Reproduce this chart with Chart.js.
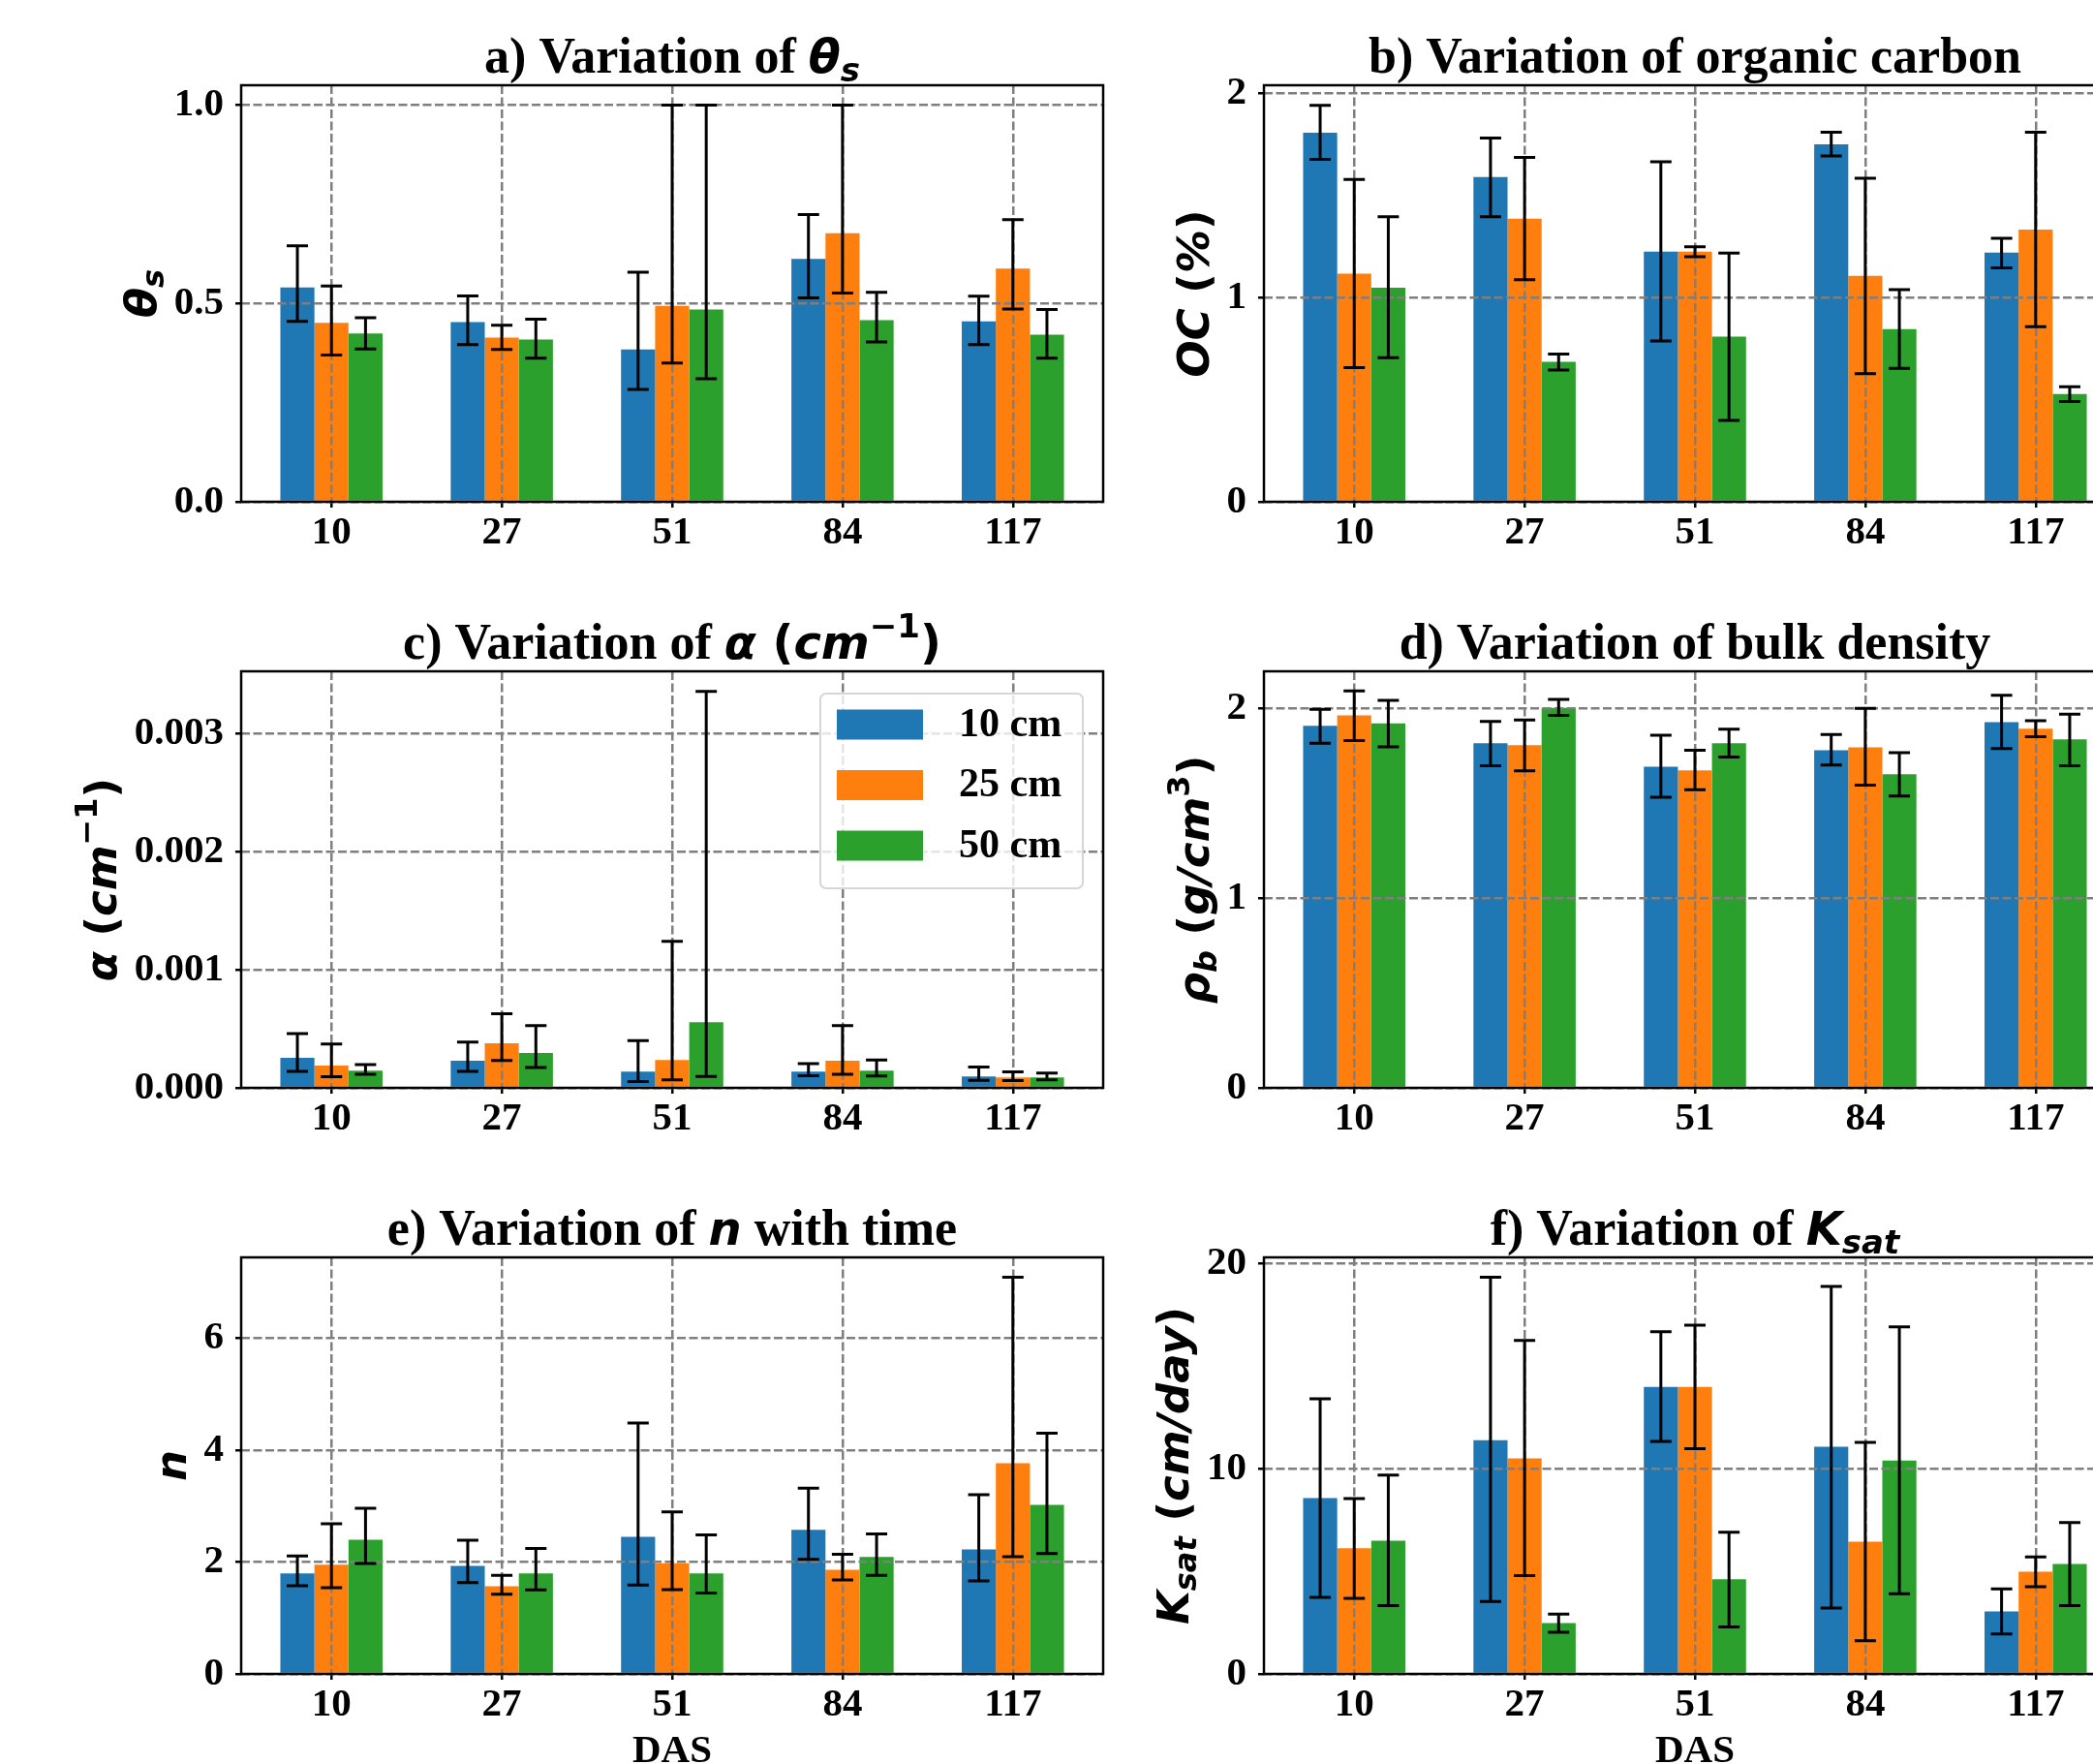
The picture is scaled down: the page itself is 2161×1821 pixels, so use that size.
<!DOCTYPE html>
<html>
<head>
<meta charset="utf-8">
<script src="https://cdn.jsdelivr.net/npm/chart.js@4.4.1/dist/chart.umd.min.js"></script>
<style>
  html, body { margin: 0; padding: 0; background: #fff; width: 2161px; height: 1821px; overflow: hidden; }
  canvas { position: absolute; }
</style>
</head>
<body>
<canvas id="pa" width="1150" height="640" style="left:0px;top:0px"></canvas>
<canvas id="pb" width="1150" height="640" style="left:1056px;top:0px"></canvas>
<canvas id="pc" width="1150" height="640" style="left:0px;top:605px"></canvas>
<canvas id="pd" width="1150" height="640" style="left:1056px;top:605px"></canvas>
<canvas id="pe" width="1150" height="640" style="left:0px;top:1210px"></canvas>
<canvas id="pf" width="1150" height="640" style="left:1056px;top:1210px"></canvas>
<script>
// categories / series
const das = ['10', '27', '51', '84', '117'];
const depths = ['10 cm', '25 cm', '50 cm'];
const colors = ['#1f77b4', '#ff7f0e', '#2ca02c'];

// a) theta_s  (rows: 10 cm, 25 cm, 50 cm)
const thetaMean = [[0.540, 0.453, 0.384, 0.612, 0.455], [0.451, 0.414, 0.494, 0.677, 0.588], [0.424, 0.409, 0.485, 0.458, 0.421]];
const thetaLow  = [[0.455, 0.396, 0.283, 0.514, 0.396], [0.370, 0.384, 0.350, 0.526, 0.486], [0.385, 0.362, 0.310, 0.403, 0.362]];
const thetaHigh = [[0.645, 0.519, 0.579, 0.724, 0.518], [0.544, 0.445, 1.000, 1.000, 0.711], [0.464, 0.460, 1.000, 0.528, 0.485]];
const thetaTicks = [0, 0.5, 1.0];
const thetaTickLabels = ['0.0', '0.5', '1.0'];

// b) organic carbon
const ocMean = [[1.807, 1.590, 1.225, 1.751, 1.220], [1.117, 1.386, 1.225, 1.107, 1.333], [1.049, 0.685, 0.809, 0.846, 0.528]];
const ocLow  = [[1.677, 1.396, 0.787, 1.694, 1.146], [0.657, 1.088, 1.200, 0.628, 0.858], [0.706, 0.645, 0.398, 0.653, 0.491]];
const ocHigh = [[1.942, 1.782, 1.665, 1.810, 1.291], [1.579, 1.687, 1.249, 1.584, 1.810], [1.396, 0.724, 1.218, 1.039, 0.563]];
const ocTicks = [0, 1, 2];
const ocTickLabels = ['0', '1', '2'];

// c) alpha
const alphaMean = [[0.000255, 0.000229, 0.000138, 0.000138, 0.000097], [0.000188, 0.000378, 0.000237, 0.000229, 0.000088], [0.000146, 0.000296, 0.000557, 0.000146, 0.000088]];
const alphaLow  = [[0.000140, 0.000140, 0.000053, 0.000103, 0.000064], [0.000094, 0.000231, 0.000067, 0.000114, 0.000062], [0.000114, 0.000173, 0.000097, 0.000100, 0.000067]];
const alphaHigh = [[0.000460, 0.000387, 0.000401, 0.000205, 0.000176], [0.000372, 0.000627, 0.001242, 0.000527, 0.000135], [0.000196, 0.000527, 0.003360, 0.000237, 0.000126]];
const alphaTicks = [0, 0.001, 0.002, 0.003];
const alphaTickLabels = ['0.000', '0.001', '0.002', '0.003'];

// d) bulk density
const rhoMean = [[1.909, 1.818, 1.694, 1.781, 1.929], [1.965, 1.807, 1.674, 1.796, 1.894], [1.923, 2.004, 1.818, 1.654, 1.838]];
const rhoLow  = [[1.818, 1.699, 1.533, 1.703, 1.790], [1.832, 1.672, 1.572, 1.597, 1.852], [1.798, 1.964, 1.745, 1.539, 1.699]];
const rhoHigh = [[1.996, 1.933, 1.860, 1.863, 2.071], [2.093, 1.940, 1.781, 2.002, 1.937], [2.044, 2.049, 1.892, 1.768, 1.971]];
const rhoTicks = [0, 1, 2];
const rhoTickLabels = ['0', '1', '2'];

// e) n
const nMean = [[1.795, 1.932, 2.452, 2.575, 2.226], [1.952, 1.568, 1.979, 1.863, 3.767], [2.397, 1.795, 1.795, 2.089, 3.021]];
const nLow  = [[1.575, 1.630, 1.589, 2.048, 1.664], [1.541, 1.425, 1.507, 1.678, 2.096], [1.973, 1.500, 1.445, 1.760, 2.151]];
const nHigh = [[2.110, 2.390, 4.486, 3.322, 3.205], [2.685, 1.760, 2.897, 2.137, 7.089], [2.959, 2.240, 2.486, 2.500, 4.301]];
const nTicks = [0, 2, 4, 6];
const nTickLabels = ['0', '2', '4', '6'];

// f) Ksat
const ksatMean = [[8.56, 11.38, 13.97, 11.06, 3.04], [6.12, 10.49, 13.97, 6.44, 4.98], [6.49, 2.48, 4.61, 10.39, 5.35]];
const ksatLow  = [[3.73, 3.53, 11.32, 3.21, 1.94], [3.68, 4.79, 10.97, 1.62, 4.25], [3.32, 2.03, 2.29, 3.90, 3.32]];
const ksatHigh = [[13.40, 19.31, 16.66, 18.86, 4.14], [8.54, 16.23, 16.98, 11.27, 5.69], [9.68, 2.91, 6.90, 16.90, 7.37]];
const ksatTicks = [0, 10, 20];
const ksatTickLabels = ['0', '10', '20'];

const TIMES = '"Liberation Serif", "Times New Roman", serif';
const tickFont = { family: TIMES, size: 41, weight: 'bold' };
const tickFontStr = `bold 41px ${TIMES}`;
const T = (s) => `bold ${s}px ${TIMES}`;
const BI = (s) => `italic bold ${s}px "DejaVu Sans"`;
const B = (s) => `bold ${s}px "DejaVu Sans"`;

//dibuja texto con partes de distinta fuente (sub/superindices)
const drawRich = (ctx, parts, cx, y) => {
  let total = 0;
  parts.forEach(([t, f]) => { ctx.font = f; total += ctx.measureText(t).width; });
  let x = cx - total / 2;
  ctx.textAlign = 'left';
  ctx.textBaseline = 'alphabetic';
  ctx.fillStyle = '#000';
  parts.forEach(([t, f, dy]) => {
    ctx.font = f;
    ctx.fillText(t, x, y + (dy || 0));
    x += ctx.measureText(t).width;
  });
}

const panelPlugin = (cfg) => ({
  id: 'panelDecor',
  afterDraw(chart) {
    const { ctx, chartArea: a } = chart;
    const yScale = chart.scales.y;
    ctx.save();

    // barras de error
    ctx.strokeStyle = '#000';
    ctx.lineWidth = 3;
    chart.data.datasets.forEach((ds, k) => {
      chart.getDatasetMeta(k).data.forEach((bar, i) => {
        const x = bar.x;
        const y1 = yScale.getPixelForValue(cfg.low[k][i]);
        const y2 = yScale.getPixelForValue(cfg.high[k][i]);
        ctx.beginPath();
        ctx.moveTo(x, y1); ctx.lineTo(x, y2);
        ctx.moveTo(x - 11, y1); ctx.lineTo(x + 11, y1);
        ctx.moveTo(x - 11, y2); ctx.lineTo(x + 11, y2);
        ctx.stroke();
      });
    });

    // marco
    ctx.lineWidth = 2.5;
    ctx.strokeRect(a.left, a.top, a.right - a.left, a.bottom - a.top);

    // titulo
    drawRich(ctx, cfg.title, (a.left + a.right) / 2, a.top - 13);

    // etiqueta eje y
    ctx.font = tickFontStr;
    const maxW = Math.max(...yScale.ticks.map(t => ctx.measureText(t.label).width));
    ctx.save();
    ctx.translate(a.left - 18 - maxW - 19, (a.top + a.bottom) / 2);
    ctx.rotate(-Math.PI / 2);
    drawRich(ctx, cfg.ylabel, 0, 0);
    ctx.restore();

    // leyenda
    if (cfg.legend) {
      const w = 271, h = 201;
      const lx = a.right - 21 - w, ly = a.top + 23;
      ctx.beginPath();
      ctx.roundRect(lx, ly, w, h, 6);
      ctx.fillStyle = 'rgba(255,255,255,0.8)';
      ctx.fill();
      ctx.strokeStyle = '#d6d6d6';
      ctx.lineWidth = 2;
      ctx.stroke();
      chart.data.datasets.forEach((ds, k) => {
        const cy = ly + 32 + k * 62.5;
        ctx.fillStyle = ds.backgroundColor;
        ctx.fillRect(lx + 17, cy - 15.5, 89, 31);
        ctx.fillStyle = '#000';
        ctx.font = T(42);
        ctx.textBaseline = 'middle';
        ctx.textAlign = 'left';
        ctx.fillText(ds.label, lx + 143, cy + 1);
      });
    }
    ctx.restore();
  }
});

const gridOpts = { z: 1, color: '#7f7f7f', lineWidth: 2.5, offset: false, drawTicks: true, tickLength: 6, tickWidth: 2.5, tickColor: '#000', tickBorderDash: [] };

const makePanel = (id, cfg) => {
  new Chart(document.getElementById(id), {
    type: 'bar',
    data: {
      datasets: depths.map((d, k) => ({
        label: d,
        data: cfg.mean[k].map((v, i) => ({ x: i, y: v })),
        backgroundColor: colors[k],
        borderWidth: 0,
        categoryPercentage: 0.6,
        barPercentage: 1.0
      }))
    },
    options: {
      responsive: false,
      devicePixelRatio: 1,
      animation: false,
      events: [],
      layout: { padding: { top: 88, left: 0, right: 11, bottom: 0 } },
      plugins: { legend: { display: false }, tooltip: { enabled: false }, title: { display: false } },
      scales: {
        x: {
          type: 'linear', min: -0.53, max: 4.53, offset: false,
          afterBuildTicks: (s) => { s.ticks = das.map((d, i) => ({ value: i })); },
          afterFit: (s) => { s.height = 122; },
          grid: gridOpts,
          border: { display: false, dash: [9, 3.5] },
          ticks: { font: tickFont, color: '#000', padding: 2, maxRotation: 0, autoSkip: false, callback: (v, i) => das[i] },
          title: { display: !!cfg.xTitle, text: cfg.xTitle || '', font: tickFont, color: '#000', padding: { top: 0, bottom: 17 } }
        },
        y: {
          type: 'linear', min: 0, max: cfg.yMax,
          afterBuildTicks: (s) => { s.ticks = cfg.ticks.map(v => ({ value: v })); },
          afterFit: (s) => { s.width = 249; },
          grid: gridOpts,
          border: { display: false, dash: [9, 3.5] },
          ticks: { font: tickFont, color: '#000', padding: 12, autoSkip: false, callback: (v, i) => cfg.tickLabels[i] }
        }
      }
    },
    plugins: [panelPlugin(cfg)]
  });
}

makePanel('pa', {
  mean: thetaMean, low: thetaLow, high: thetaHigh, yMax: 1.05, ticks: thetaTicks, tickLabels: thetaTickLabels,
  title: [['a) Variation of ', T(52)], ['θ', BI(48)], ['s', BI(34), 9]],
  ylabel: [['θ', BI(45)], ['s', BI(32), 8]]
});
makePanel('pb', {
  mean: ocMean, low: ocLow, high: ocHigh, yMax: 2.04, ticks: ocTicks, tickLabels: ocTickLabels,
  title: [['b) Variation of organic carbon', T(52)]],
  ylabel: [['OC ', BI(45)], ['(', B(45)], ['%', BI(45)], [')', B(45)]]
});
makePanel('pc', {
  mean: alphaMean, low: alphaLow, high: alphaHigh, yMax: 0.00353, ticks: alphaTicks, tickLabels: alphaTickLabels, legend: true,
  title: [['c) Variation of ', T(52)], ['α', BI(48)], [' (', B(48)], ['cm', BI(48)], ['−1', B(34), -22], [')', B(48)]],
  ylabel: [['α', BI(45)], [' (', B(45)], ['cm', BI(45)], ['−1', B(32), -20], [')', B(45)]]
});
makePanel('pd', {
  mean: rhoMean, low: rhoLow, high: rhoHigh, yMax: 2.197, ticks: rhoTicks, tickLabels: rhoTickLabels,
  title: [['d) Variation of bulk density', T(52)]],
  ylabel: [['ρ', BI(45)], ['b', BI(32), 8], [' (', B(45)], ['g/cm', BI(45)], ['3', B(32), -20], [')', B(45)]]
});
makePanel('pe', {
  mean: nMean, low: nLow, high: nHigh, yMax: 7.445, ticks: nTicks, tickLabels: nTickLabels, xTitle: 'DAS',
  title: [['e) Variation of ', T(52)], ['n', BI(48)], [' with time', T(52)]],
  ylabel: [['n', BI(45)]]
});
makePanel('pf', {
  mean: ksatMean, low: ksatLow, high: ksatHigh, yMax: 20.28, ticks: ksatTicks, tickLabels: ksatTickLabels, xTitle: 'DAS',
  title: [['f) Variation of ', T(52)], ['K', BI(48)], ['sat', BI(34), 9]],
  ylabel: [['K', BI(45)], ['sat', BI(32), 8], [' (', B(45)], ['cm/day', BI(45)], [')', B(45)]]
});
</script>
</body>
</html>
